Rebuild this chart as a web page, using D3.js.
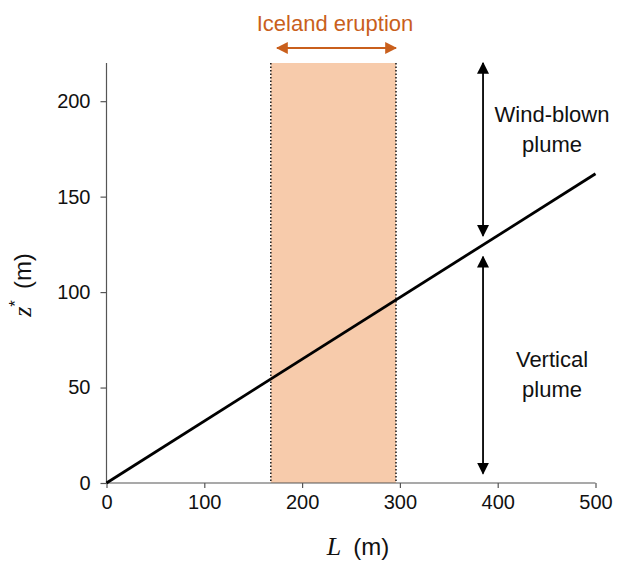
<!DOCTYPE html>
<html>
<head>
<meta charset="utf-8">
<script src="https://cdn.jsdelivr.net/npm/d3@7"></script>
<style>
  body { margin: 0; background: #fff; }
  text { font-family: "Liberation Sans", Arial, sans-serif; }
</style>
</head>
<body>
<svg id="chart" width="617" height="564"></svg>
<script>
// plume height line z* vs L
var lValues = [0, 500];
var zValues = [0, 162];
var xTicks = [0, 100, 200, 300, 400, 500];
var yTicks = [0, 50, 100, 150, 200];
var eruptionRange = [168, 296];
var arrowL = 385;
var windBlownArrow = [220, 129.5];
var verticalArrow = [118.5, 5];

var margin = {left: 106.5, right: 21.5, top: 63, bottom: 81};
var width = 617, height = 564;

var svg = d3.select('#chart');

var x = d3.scaleLinear().domain([0, 500]).range([margin.left, width - margin.right]);
var y = d3.scaleLinear().domain([0, 220]).range([height - margin.bottom, margin.top]);

var defs = svg.append('defs');
function marker(id, color, w, l) {
    defs.append('marker')
        .attr('id', id)
        .attr('viewBox', '0 0 10 10')
        .attr('refX', 9).attr('refY', 5)
        .attr('markerWidth', l).attr('markerHeight', w)
        .attr('markerUnits', 'userSpaceOnUse')
        .attr('preserveAspectRatio', 'none')
        .attr('orient', 'auto-start-reverse')
        .append('path')
        .attr('d', 'M0,0 L10,5 L0,10 z')
        .style('fill', color);
}
marker('arrBlack', '#000', 12, 12);
marker('arrOrange', '#c95f1c', 12, 12);

// eruption band
svg.append('rect')
    .attr('x', x(eruptionRange[0]))
    .attr('y', y(220))
    .attr('width', x(eruptionRange[1]) - x(eruptionRange[0]))
    .attr('height', y(0) - y(220))
    .style('fill', '#f7cbab');

svg.selectAll('line.edge')
    .data(eruptionRange)
    .enter().append('line')
    .attr('class', 'edge')
    .attr('x1', function(d) { return x(d); })
    .attr('x2', function(d) { return x(d); })
    .attr('y1', y(220))
    .attr('y2', y(0))
    .style('stroke', '#222')
    .style('stroke-width', 1.6)
    .style('stroke-dasharray', '1.5,2');

// axes
var xAxis = svg.append('g')
    .attr('transform', 'translate(0,' + y(0) + ')')
    .call(d3.axisBottom(x).tickValues(xTicks).tickSize(5).tickPadding(7));
var yAxis = svg.append('g')
    .attr('transform', 'translate(' + x(0) + ',0)')
    .call(d3.axisLeft(y).tickValues(yTicks).tickSize(6).tickPadding(10));

[xAxis, yAxis].forEach(function(g) {
    g.select('.domain').style('stroke', '#555').style('stroke-width', 1.2);
    g.selectAll('.tick line').style('stroke', '#555').style('stroke-width', 1.2);
    g.selectAll('.tick text')
        .style('font-size', '20px')
        .style('font-family', '"Liberation Sans", Arial, sans-serif')
        .style('fill', '#111');
});
yAxis.select('.domain').attr('d', 'M0,' + y(220) + 'V' + y(0));
xAxis.select('.domain').attr('d', 'M' + x(0) + ',0H' + x(500));

// main line
var line = d3.line()
    .x(function(d, i) { return x(lValues[i]); })
    .y(function(d) { return y(d); });
svg.append('path')
    .datum(zValues)
    .attr('d', line)
    .style('fill', 'none')
    .style('stroke', '#000')
    .style('stroke-width', 2.8);

// plume arrows
[windBlownArrow, verticalArrow].forEach(function(a) {
    svg.append('line')
        .attr('x1', x(arrowL)).attr('x2', x(arrowL))
        .attr('y1', y(a[0])).attr('y2', y(a[1]))
        .style('stroke', '#000')
        .style('stroke-width', 1.8)
        .attr('marker-start', 'url(#arrBlack)')
        .attr('marker-end', 'url(#arrBlack)');
});

// eruption arrow and label
svg.append('line')
    .attr('x1', 277).attr('x2', 396)
    .attr('y1', 48).attr('y2', 48)
    .style('stroke', '#c95f1c')
    .style('stroke-width', 2.2)
    .attr('marker-start', 'url(#arrOrange)')
    .attr('marker-end', 'url(#arrOrange)');

svg.append('text')
    .attr('x', 335).attr('y', 31)
    .attr('text-anchor', 'middle')
    .style('font-size', '22px')
    .style('fill', '#c95f1c')
    .text('Iceland eruption');

// annotations
var notes = [
    {lines: ['Wind-blown', 'plume'], cx: 552, y0: 122},
    {lines: ['Vertical', 'plume'], cx: 552, y0: 367}
];
notes.forEach(function(n) {
    n.lines.forEach(function(t, i) {
        svg.append('text')
            .attr('x', n.cx).attr('y', n.y0 + i * 30)
            .attr('text-anchor', 'middle')
            .style('font-size', '22px')
            .style('fill', '#111')
            .text(t);
    });
});

// axis titles
var xl = svg.append('text')
    .attr('x', 358).attr('y', 555)
    .attr('text-anchor', 'middle')
    .style('font-size', '24px')
    .style('fill', '#111');
xl.append('tspan').style('font-family', '"Liberation Serif", "Times New Roman", serif')
    .style('font-style', 'italic').style('font-size', '26px').text('L');
xl.append('tspan').attr('dx', 12).text('(m)');

var yl = svg.append('text')
    .attr('transform', 'translate(31,285) rotate(-90)')
    .attr('text-anchor', 'middle')
    .style('font-size', '24px')
    .style('fill', '#111');
yl.append('tspan').style('font-family', '"Liberation Serif", "Times New Roman", serif')
    .style('font-style', 'italic').style('font-size', '26px').text('z');
yl.append('tspan').attr('dy', -10).style('font-size', '17px').text('*');
yl.append('tspan').attr('dy', 10).attr('dx', 11).text('(m)');
</script>
</body>
</html>
